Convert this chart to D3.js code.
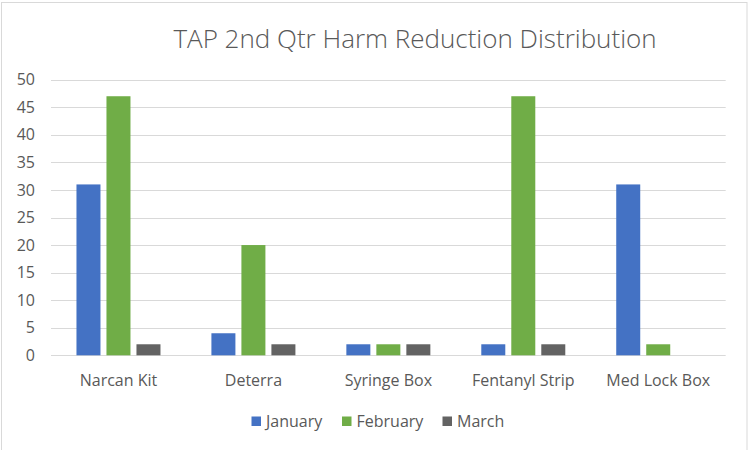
<!DOCTYPE html>
<html>
<head>
<meta charset="utf-8">
<script src="https://cdn.jsdelivr.net/npm/d3@7"></script>
<style>
  html, body { margin: 0; padding: 0; background: #fff; }
  svg { display: block; }
  text { font-family: "Open Sans", "Noto Sans", sans-serif; fill: #595959; }
</style>
</head>
<body>
<svg id="chart" width="749" height="450"></svg>
<script>
const categories = ["Narcan Kit", "Deterra", "Syringe Box", "Fentanyl Strip", "Med Lock Box"];
const seriesNames = ["January", "February", "March"];
const january  = [31, 4, 2, 2, 31];
const february = [47, 20, 2, 47, 2];
const march    = [2, 2, 2, 2, 0];
const yTicks = [0, 5, 10, 15, 20, 25, 30, 35, 40, 45, 50];
const colors = ["#4472C4", "#70AD47", "#636363"];
const title = "TAP 2nd Qtr Harm Reduction Distribution";

const seriesValues = [january, february, march];

const svg = d3.select("#chart");
const W = 749, H = 450;

// chart border
svg.append("rect")
  .attr("x", 1.5).attr("y", 2.5).attr("width", W - 3.5).attr("height", H - 2)
  .attr("fill", "#fff").attr("stroke", "#d9d9d9").attr("stroke-width", 1);

const plot = { left: 51, right: 725.7, top: 79.7, bottom: 355.3 };

const x0 = d3.scaleBand().domain(categories).range([plot.left, plot.right]).paddingInner(0).paddingOuter(0);
const groupW = 84;
const x1 = d3.scaleBand().domain(seriesNames).range([0, groupW]).paddingInner(0.2).paddingOuter(0);
const y = d3.scaleLinear().domain([0, 50]).range([plot.bottom, plot.top]);

// gridlines
svg.append("g").selectAll("line").data(yTicks).join("line")
  .attr("x1", plot.left).attr("x2", plot.right)
  .attr("y1", d => Math.round(y(d)) + 0.5).attr("y2", d => Math.round(y(d)) + 0.5)
  .attr("stroke", "#d9d9d9").attr("stroke-width", 1);

// y axis labels
const yAxis = d3.axisLeft(y).tickValues(yTicks).tickSize(0).tickPadding(0);
const gy = svg.append("g").attr("transform", `translate(35,0)`).call(yAxis);
gy.select(".domain").remove();
gy.selectAll("text").style("font-size", "16px").attr("fill", "#595959");

// bars
const data = [];
categories.forEach((c, i) => {
  seriesNames.forEach((s, j) => {
    data.push({ cat: c, series: s, value: seriesValues[j][i], color: colors[j] });
  });
});

svg.append("g").selectAll("rect").data(data.filter(d => d.value > 0)).join("rect")
  .attr("x", d => x0(d.cat) + (x0.bandwidth() - groupW) / 2 + x1(d.series))
  .attr("width", x1.bandwidth())
  .attr("y", d => y(d.value))
  .attr("height", d => y(0) - y(d.value))
  .attr("fill", d => d.color);

// x axis labels
const xAxis = d3.axisBottom(x0).tickSize(0).tickPadding(0);
const gx = svg.append("g").attr("transform", `translate(0,${plot.bottom})`).call(xAxis);
gx.select(".domain").remove();
gx.selectAll("text").attr("dy", null).attr("y", 31).style("font-size", "16px").attr("fill", "#595959");

// title
svg.append("text")
  .attr("x", 415).attr("y", 48)
  .attr("text-anchor", "middle")
  .style("font-size", "26px")
  .style("font-weight", 300)
  .text(title);

// legend
const legendX = [251.5, 342, 442.5];
const lg = svg.append("g");
seriesNames.forEach((s, j) => {
  lg.append("rect").attr("x", legendX[j]).attr("y", 416.5).attr("width", 9.5).attr("height", 9.5).attr("fill", colors[j]);
  lg.append("text").attr("x", legendX[j] + 14.5).attr("y", 427).style("font-size", "16px").text(s);
});
</script>
</body>
</html>
